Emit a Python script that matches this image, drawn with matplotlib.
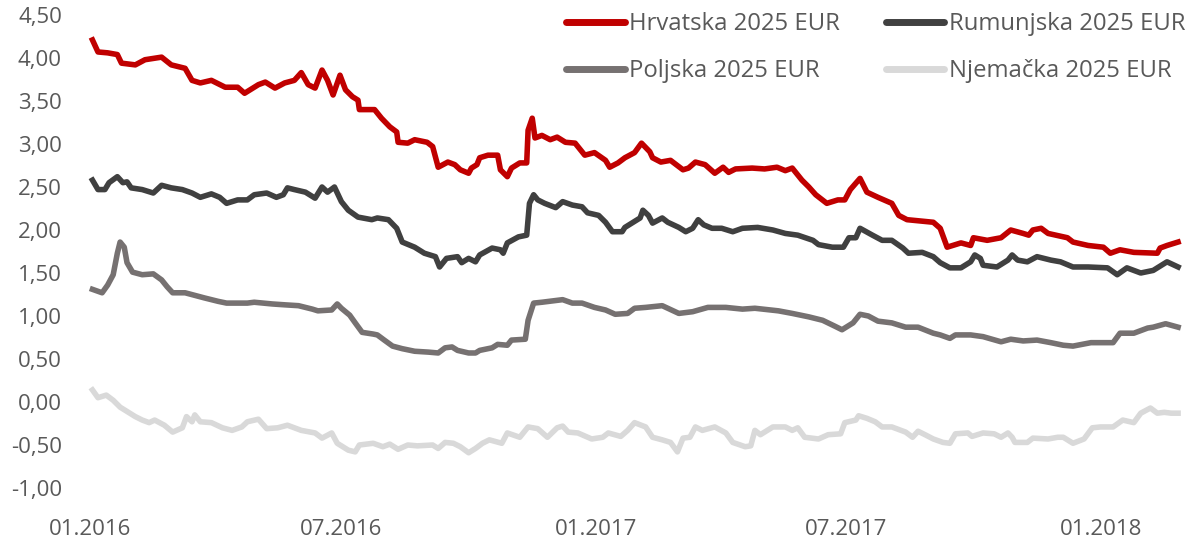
import numpy as np
import matplotlib
import matplotlib.pyplot as plt
import matplotlib.dates as mdates
from matplotlib.ticker import FuncFormatter, MultipleLocator

matplotlib.use("Agg")

plt.rcParams.update({
    "font.family": ["Open Sans", "DejaVu Sans"],
    "font.size": 16,
    "figure.facecolor": "white",
})

START = np.datetime64("2016-01-01")

# days since 01.01.2016 and yields (%)
hr_days = [2, 6, 13, 20, 23, 33, 40, 52, 59, 69, 74, 80, 88, 98, 107, 112, 122, 127, 134, 141,
           148, 153, 158, 163, 168, 172, 176, 181, 185, 190, 194, 195, 206, 211, 217, 222, 223,
           230, 235, 244, 248, 252, 259, 264, 268, 274, 276, 280, 282, 288, 295, 297, 302, 305,
           311, 316, 317, 320, 322, 327, 333, 338, 344, 351, 358, 365, 373, 376, 382, 387, 394,
           399, 405, 407, 413, 420, 429, 433, 438, 445, 452, 458, 462, 467, 479, 488, 497, 503,
           508, 515, 520, 525, 533, 541, 546, 550, 557, 562, 570, 580, 585, 591, 610, 615, 620,
           630, 637, 639, 649, 659, 666, 675, 679, 682, 688, 693, 707, 711, 722, 733, 738, 745,
           755, 772, 774, 779, 787]
hr_vals = [4.21, 4.07, 4.06, 4.04, 3.94, 3.92, 3.98, 4.01, 3.92, 3.88, 3.74, 3.71, 3.74, 3.66,
           3.66, 3.59, 3.69, 3.72, 3.65, 3.71, 3.74, 3.83, 3.69, 3.65, 3.86, 3.74, 3.57, 3.80,
           3.63, 3.55, 3.51, 3.40, 3.40, 3.30, 3.20, 3.14, 3.02, 3.01, 3.05, 3.02, 2.97, 2.73,
           2.79, 2.76, 2.70, 2.66, 2.72, 2.76, 2.84, 2.87, 2.87, 2.70, 2.62, 2.72, 2.78, 2.78,
           3.16, 3.30, 3.07, 3.10, 3.05, 3.08, 3.02, 3.01, 2.87, 2.90, 2.81, 2.73, 2.78, 2.84,
           2.90, 3.01, 2.91, 2.84, 2.79, 2.81, 2.70, 2.72, 2.79, 2.76, 2.66, 2.73, 2.67, 2.71,
           2.72, 2.71, 2.73, 2.69, 2.72, 2.58, 2.50, 2.41, 2.31, 2.35, 2.35, 2.47, 2.60, 2.44,
           2.38, 2.31, 2.17, 2.12, 2.09, 2.02, 1.80, 1.85, 1.82, 1.91, 1.88, 1.91, 2.00, 1.96,
           1.94, 2.00, 2.02, 1.96, 1.91, 1.86, 1.82, 1.80, 1.73, 1.77, 1.74, 1.73, 1.79, 1.82,
           1.86]

ro_days = [2, 6, 11, 14, 20, 24, 27, 30, 38, 46, 52, 59, 67, 74, 80, 88, 94, 99, 107, 114,
           119, 128, 135, 140, 143, 148, 156, 163, 168, 172, 177, 182, 187, 194, 204, 208, 216,
           222, 226, 235, 242, 250, 253, 258, 266, 269, 274, 279, 282, 291, 297, 299, 302, 310,
           316, 318, 321, 324, 329, 337, 342, 349, 356, 360, 368, 373, 378, 385, 387, 393, 398,
           400, 404, 407, 414, 418, 426, 431, 436, 440, 444, 450, 457, 465, 472, 483, 494, 503,
           512, 523, 527, 537, 545, 549, 554, 557, 566, 573, 580, 588, 592, 602, 610, 615, 622,
           630, 637, 640, 644, 646, 656, 664, 667, 671, 678, 685, 695, 702, 711, 722, 736, 743,
           750, 760, 769, 779, 787]
ro_vals = [2.58, 2.47, 2.47, 2.55, 2.62, 2.55, 2.56, 2.49, 2.47, 2.43, 2.52, 2.49, 2.47, 2.43,
           2.38, 2.42, 2.38, 2.31, 2.35, 2.35, 2.41, 2.43, 2.38, 2.41, 2.49, 2.47, 2.44, 2.37,
           2.50, 2.44, 2.50, 2.33, 2.23, 2.15, 2.12, 2.14, 2.12, 2.02, 1.86, 1.80, 1.73, 1.69,
           1.57, 1.67, 1.69, 1.62, 1.67, 1.63, 1.71, 1.79, 1.77, 1.73, 1.85, 1.92, 1.94, 2.31,
           2.41, 2.35, 2.31, 2.26, 2.33, 2.29, 2.27, 2.20, 2.17, 2.09, 1.98, 1.98, 2.03, 2.09,
           2.14, 2.23, 2.17, 2.08, 2.14, 2.09, 2.03, 1.98, 2.02, 2.12, 2.06, 2.02, 2.02, 1.98,
           2.02, 2.03, 2.00, 1.96, 1.94, 1.88, 1.83, 1.80, 1.80, 1.91, 1.91, 2.02, 1.94, 1.88,
           1.88, 1.79, 1.73, 1.74, 1.69, 1.62, 1.56, 1.56, 1.63, 1.71, 1.67, 1.59, 1.57, 1.65,
           1.71, 1.65, 1.63, 1.69, 1.65, 1.63, 1.57, 1.57, 1.56, 1.48, 1.56, 1.50, 1.53, 1.63,
           1.57]

pl_days = [2, 9, 13, 17, 20, 22, 25, 27, 31, 38, 46, 52, 56, 60, 69, 76, 83, 93, 99, 114,
           119, 132, 141, 151, 161, 165, 175, 179, 182, 188, 192, 197, 205, 208, 213, 219, 226,
           235, 245, 252, 257, 262, 266, 274, 279, 282, 291, 295, 302, 305, 315, 317, 321, 327,
           342, 349, 356, 365, 373, 380, 389, 394, 402, 414, 426, 436, 447, 460, 472, 481, 498,
           508, 520, 530, 539, 544, 552, 557, 563, 570, 580, 590, 599, 610, 615, 622, 626, 637,
           646, 659, 666, 675, 685, 695, 704, 711, 724, 740, 745, 755, 765, 769, 778, 787]
pl_vals = [1.31, 1.27, 1.36, 1.48, 1.73, 1.86, 1.80, 1.62, 1.51, 1.48, 1.49, 1.42, 1.34, 1.27,
           1.27, 1.24, 1.21, 1.17, 1.15, 1.15, 1.16, 1.14, 1.13, 1.12, 1.08, 1.06, 1.07, 1.14,
           1.09, 1.01, 0.92, 0.81, 0.79, 0.78, 0.72, 0.65, 0.62, 0.59, 0.58, 0.57, 0.63, 0.64,
           0.60, 0.57, 0.57, 0.60, 0.63, 0.67, 0.66, 0.72, 0.73, 0.95, 1.15, 1.16, 1.19, 1.15,
           1.15, 1.10, 1.07, 1.02, 1.03, 1.09, 1.10, 1.12, 1.03, 1.05, 1.10, 1.10, 1.08, 1.09,
           1.06, 1.03, 0.99, 0.95, 0.88, 0.84, 0.92, 1.02, 1.00, 0.94, 0.92, 0.87, 0.87, 0.80,
           0.78, 0.74, 0.78, 0.78, 0.76, 0.70, 0.73, 0.71, 0.72, 0.69, 0.66, 0.65, 0.69, 0.69,
           0.80, 0.80, 0.86, 0.87, 0.91, 0.87]

de_days = [2, 6, 12, 17, 22, 28, 33, 38, 43, 47, 54, 60, 67, 70, 74, 76, 80, 88, 96, 103,
           110, 114, 122, 128, 136, 143, 153, 163, 168, 175, 179, 187, 192, 195, 205, 212, 217,
           223, 230, 237, 248, 252, 257, 263, 268, 274, 279, 284, 289, 298, 302, 311, 317, 324,
           331, 338, 342, 346, 353, 363, 371, 375, 384, 389, 394, 402, 407, 414, 420, 425, 429,
           434, 438, 443, 452, 460, 465, 474, 478, 481, 485, 494, 503, 508, 512, 517, 527, 534,
           543, 546, 554, 556, 562, 568, 573, 580, 590, 595, 599, 604, 610, 617, 622, 626, 635,
           638, 646, 654, 659, 664, 667, 669, 678, 682, 693, 700, 704, 711, 719, 725, 731, 740,
           747, 755, 760, 767, 772, 777, 782, 787]
de_vals = [0.14, 0.05, 0.08, 0.02, -0.06, -0.12, -0.17, -0.21, -0.24, -0.21, -0.27, -0.35,
           -0.30, -0.17, -0.23, -0.15, -0.23, -0.24, -0.30, -0.33, -0.29, -0.23, -0.20, -0.31,
           -0.30, -0.27, -0.33, -0.36, -0.42, -0.36, -0.48, -0.56, -0.58, -0.50, -0.48, -0.52,
           -0.49, -0.55, -0.50, -0.51, -0.50, -0.54, -0.47, -0.48, -0.52, -0.59, -0.54, -0.48,
           -0.44, -0.48, -0.36, -0.41, -0.29, -0.31, -0.41, -0.30, -0.28, -0.35, -0.36, -0.43,
           -0.41, -0.36, -0.40, -0.33, -0.24, -0.29, -0.41, -0.44, -0.47, -0.58, -0.42, -0.41,
           -0.29, -0.33, -0.29, -0.36, -0.47, -0.52, -0.51, -0.33, -0.38, -0.29, -0.29, -0.33,
           -0.30, -0.41, -0.43, -0.38, -0.37, -0.24, -0.21, -0.16, -0.19, -0.23, -0.29, -0.29,
           -0.35, -0.41, -0.34, -0.38, -0.43, -0.47, -0.48, -0.37, -0.36, -0.40, -0.36, -0.37,
           -0.41, -0.36, -0.41, -0.47, -0.47, -0.42, -0.43, -0.41, -0.41, -0.48, -0.43, -0.30,
           -0.29, -0.29, -0.21, -0.24, -0.13, -0.07, -0.13, -0.12, -0.13, -0.13]

series = [
    ("Hrvatska 2025 EUR", hr_days, hr_vals, "#C00000"),
    ("Rumunjska 2025 EUR", ro_days, ro_vals, "#404040"),
    ("Poljska 2025 EUR", pl_days, pl_vals, "#767171"),
    ("Njemačka 2025 EUR", de_days, de_vals, "#D9D9D9"),
]

TXT = "#595959"

fig = plt.figure(figsize=(11.88, 5.47), dpi=100)
ax = fig.add_axes([80 / 1188, 1 - 488 / 547, 1105 / 1188, (488 - 15) / 547])

lines = {}
for name, days, vals, col in series:
    dates = START + np.array(days, dtype="timedelta64[D]")
    lines[name], = ax.plot(dates, vals, color=col, lw=4, label=name,
                           solid_joinstyle="round", clip_on=False)

ax.set_ylim(-1.0, 4.5)
ax.yaxis.set_major_locator(MultipleLocator(0.5))
ax.yaxis.set_major_formatter(FuncFormatter(lambda v, p: f"{v:.2f}".replace(".", ",")))
ax.set_xlim(START - np.timedelta64(7, "D"), START + np.timedelta64(792, "D"))
ax.xaxis.set_major_locator(mdates.MonthLocator(bymonth=[1, 7]))
ax.xaxis.set_major_formatter(mdates.DateFormatter("%m.%Y"))

for s in ax.spines.values():
    s.set_visible(False)
ax.tick_params(axis="both", length=0, labelsize=16, labelcolor=TXT)
ax.tick_params(axis="y", pad=13)
ax.tick_params(axis="x", pad=22)

# legend fills column-wise, so order so that rows read HR/RO, PL/DE
order = ["Hrvatska 2025 EUR", "Poljska 2025 EUR", "Rumunjska 2025 EUR", "Njemačka 2025 EUR"]
leg = fig.legend([lines[n] for n in order], order, loc="upper left",
                 bbox_to_anchor=(566 / 1188, 1 - 12 / 547), ncol=2,
                 frameon=False, fontsize=17.2, handlelength=2.45, handletextpad=0.2,
                 columnspacing=1.9, labelspacing=0.98, borderpad=0, borderaxespad=0)
for t in leg.get_texts():
    t.set_color(TXT)
for h in leg.get_lines():
    h.set_linewidth(5)
    h.set_solid_capstyle("round")

fig.savefig("out.png", dpi=100)
